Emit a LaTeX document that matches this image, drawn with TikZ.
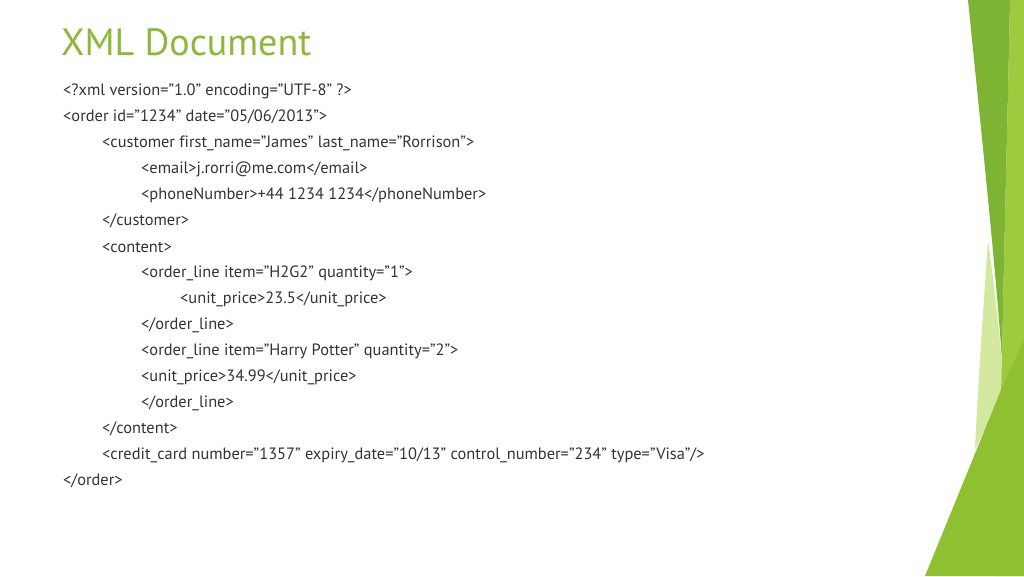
\documentclass[tikz,border=0pt]{standalone}
\usepackage{fontspec}
\setmainfont[Ligatures=NoCommon]{PT Sans}
\definecolor{titlegreen}{HTML}{8DB83A}
\definecolor{darkleaf}{HTML}{7DB434}
\definecolor{midleaf}{HTML}{9DCB3F}
\definecolor{paleleaf}{HTML}{D4E8A0}
\definecolor{lowleaf}{HTML}{8FC031}
\tikzset{codeline/.style={anchor=west,inner sep=0pt,font=\fontsize{16.4}{18}\selectfont,text=black!80}}
\begin{document}
\begin{tikzpicture}[x=1pt,y=-1pt]
\useasboundingbox (0,0) rectangle (1024,576);
% right hand leaves
\fill[paleleaf] (988,240) .. controls (996,300) and (1003,360) .. (1003,390) -- (975,450) .. controls (978,380) and (984,300) .. (988,240);
\fill[midleaf] (1010,0) -- (1024,0) -- (1024,576) -- (995,576) -- (1002,360) .. controls (1004,250) and (1008,100) .. (1010,0);
\fill[darkleaf] (968,0) .. controls (980,120) and (995,260) .. (1002,360) .. controls (1004,250) and (1008,100) .. (1010,0) -- cycle;
\fill[lowleaf] (925,576) -- (1003,385) -- (1024,340) -- (1024,576) -- cycle;
% title
\node[anchor=west,inner sep=0pt,font=\fontsize{38}{42}\selectfont,text=titlegreen] (title) at (61,42) {XML Document};
% xml listing
\foreach \lvl/\txt [count=\i] in {
 0/{<?xml version="1.0" encoding="UTF-8" ?>},
 0/{<order id="1234" date="05/06/2013">},
 1/{<customer first\_name="James" last\_name="Rorrison">},
 2/{<email>j.rorri@me.com</email>},
 2/{<phoneNumber>+44 1234 1234</phoneNumber>},
 1/{</customer>},
 1/{<content>},
 2/{<order\_line item="H2G2" quantity="1">},
 3/{<unit\_price>23.5</unit\_price>},
 2/{</order\_line>},
 2/{<order\_line item="Harry Potter" quantity="2">},
 2/{<unit\_price>34.99</unit\_price>},
 2/{</order\_line>},
 1/{</content>},
 1/{<credit\_card number="1357" expiry\_date="10/13" control\_number="234" type="Visa"/>},
 0/{</order>}}
 \node[codeline] (line\i) at (63+39*\lvl,65+26*\i) {\txt};
\end{tikzpicture}
\end{document}
